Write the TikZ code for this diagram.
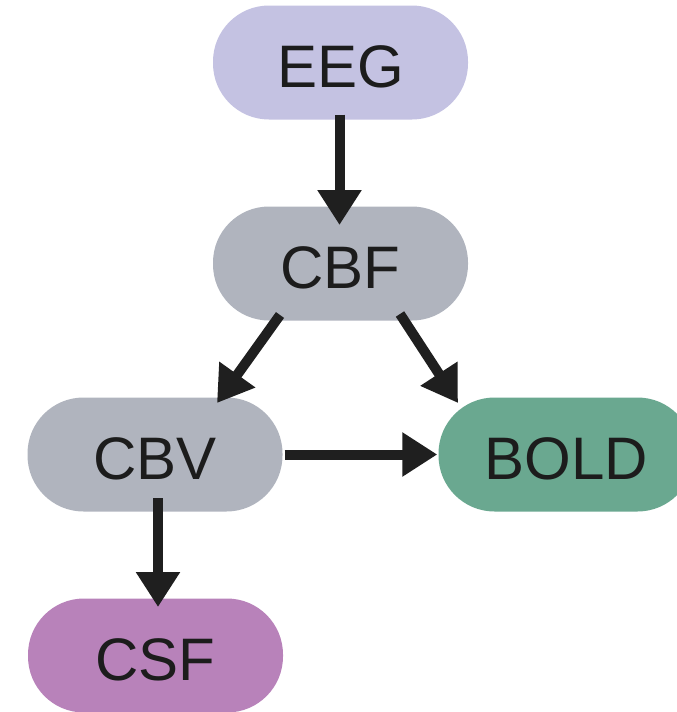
\documentclass[tikz,border=0pt]{standalone}
\usepackage{fontspec}
\setmainfont{Liberation Sans}
\usetikzlibrary{arrows.meta,calc}
\definecolor{eegc}{RGB}{196,194,226}
\definecolor{grayc}{RGB}{176,180,190}
\definecolor{boldc}{RGB}{106,168,144}
\definecolor{csfc}{RGB}{184,130,186}
\definecolor{txtc}{RGB}{28,28,28}
\tikzset{
  pill/.style={rectangle, rounded corners=56pt, minimum width=255pt, minimum height=114pt,
    inner sep=0pt, text height=49pt, text depth=0pt, text=txtc,
    font=\fontsize{60}{60}\selectfont},
  arr/.style={line width=10pt, color=black!88, -{Triangle[length=35pt,width=42pt]}}
}
\begin{document}
\begin{tikzpicture}[x=1pt,y=-1pt]
\useasboundingbox (0,0) rectangle (677,712);
\clip (0,0) rectangle (677,712);
\node[pill, fill=eegc] (EEG) at (340.5,62.5) {EEG};
\node[pill, fill=grayc] (CBF) at (340.5,263.5) {CBF};
\node[pill, fill=grayc] (CBV) at (155,454.5) {CBV};
\node[pill, fill=boldc] (BOLD) at (566,454.5) {BOLD};
\node[pill, fill=csfc] (CSF) at (155.5,655.5) {CSF};
\draw[arr] ($(EEG.center)+(-1,52)$) -- ($(CBF.center)+(-1,-38.5)$);
\draw[arr] ($(CBF.center)+(-60.5,51.5)$) -- ($(CBV.center)+(62,-51.5)$);
\draw[arr] ($(CBF.center)+(59.5,50.5)$) -- ($(BOLD.center)+(-108,-51.5)$);
\draw[arr] ($(CBV.east)+(2,0)$) -- ($(BOLD.west)+(-1,0)$);
\draw[arr] ($(CBV.center)+(3,43.5)$) -- ($(CSF.center)+(2.5,-48.5)$);
\end{tikzpicture}
\end{document}
